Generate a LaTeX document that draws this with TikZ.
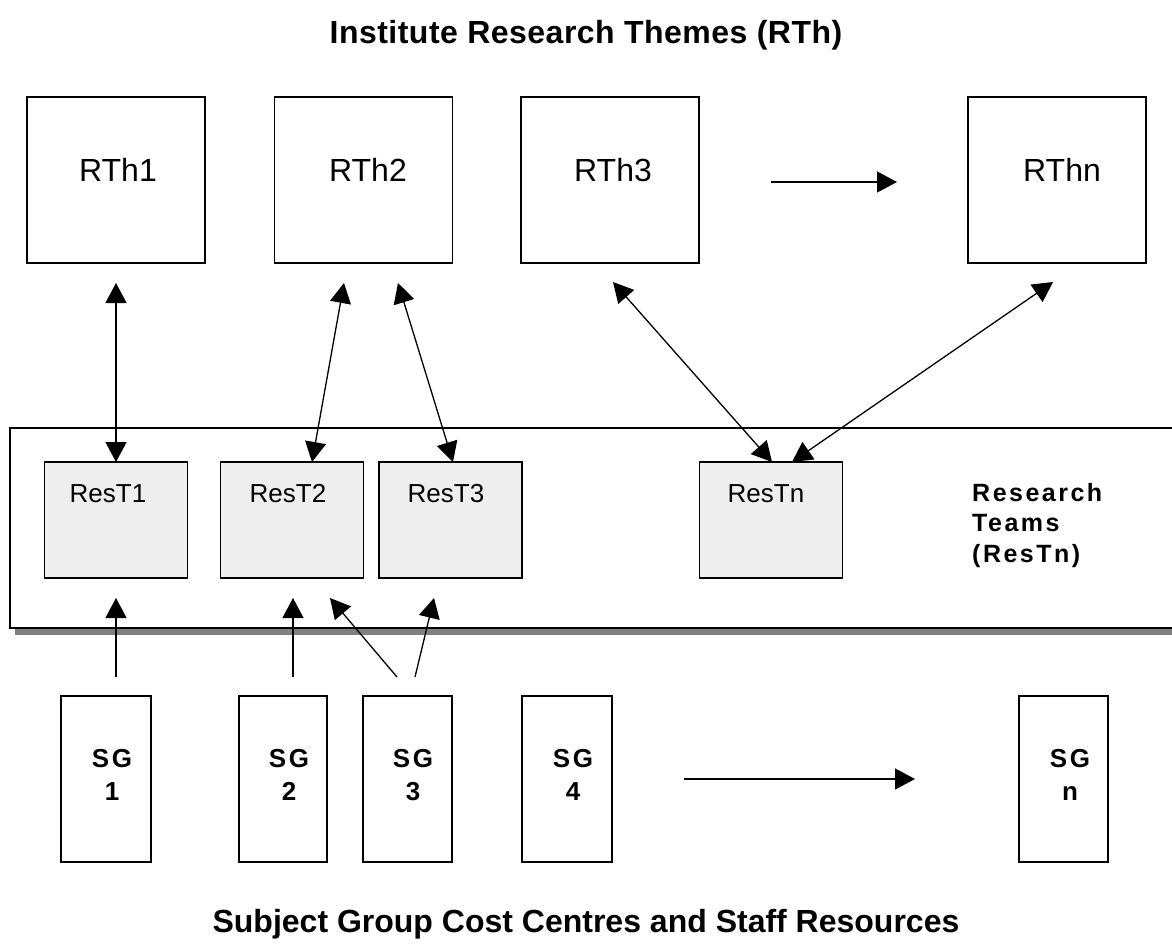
\documentclass[tikz,border=0pt]{standalone}
\usepackage{fontspec}
\setmainfont{Liberation Sans}
\newfontfamily\spbf[LetterSpace=10]{Liberation Sans}
\newfontfamily\ttlf[LetterSpace=1.5]{Liberation Sans}
\usetikzlibrary{arrows.meta}
\definecolor{resfill}{HTML}{EEEEEE}
\definecolor{shadowgray}{HTML}{808080}
\tikzset{
  box/.style={draw=black, line width=1.5pt, fill=white, inner sep=0pt, rectangle},
  thbox/.style={box, minimum width=178pt, minimum height=166pt},
  rtbox/.style={box, fill=resfill, minimum width=143pt, minimum height=116pt},
  sgbox/.style={box, minimum width=89pt, minimum height=166pt},
  conn/.style={line width=1.3pt, draw=black},
  tip/.style={-{Triangle[length=20pt,width=21pt]}},
  tips/.style={{Triangle[length=20pt,width=21pt]}-{Triangle[length=20pt,width=21pt]}},
  lbl/.style={inner sep=0pt, anchor=base, text=black},
}
\begin{document}
\begin{tikzpicture}[x=1pt,y=-1pt]
\useasboundingbox (0,0) rectangle (1172,943);
\fill[white] (0,0) rectangle (1172,943);

% titles
\node[lbl] (title1) at (586,43) {\fontsize{32}{38}\selectfont\ttlf\bfseries Institute Research Themes (RTh)};
\node[lbl] (title2) at (586,932) {\fontsize{32}{38}\selectfont\bfseries Subject Group Cost Centres and Staff Resources};

% research themes
\node[thbox] (rth1) at (116,180) {};
\node[thbox] (rth2) at (363.5,180) {};
\node[thbox] (rth3) at (610,180) {};
\node[thbox] (rthn) at (1057,180) {};
\node[lbl] (l-rth1) at (118,181) {\fontsize{32}{38}\selectfont RTh1};
\node[lbl] (l-rth2) at (368,181) {\fontsize{32}{38}\selectfont RTh2};
\node[lbl] (l-rth3) at (613,181) {\fontsize{32}{38}\selectfont RTh3};
\node[lbl] (l-rthn) at (1062,181) {\fontsize{32}{38}\selectfont RThn};

\coordinate (a-th-s) at (771,182);
\coordinate (a-th-e) at (897,182);
\draw[conn,tip] (a-th-s) -- (a-th-e);

% research teams band with shadow
\fill[shadowgray] (15,435) rectangle (1195,635);
\node[box, anchor=north west, minimum width=1180pt, minimum height=200pt] (band) at (9,427) {};

\node[rtbox] (rt1) at (116,520) {};
\node[rtbox] (rt2) at (292,520) {};
\node[rtbox] (rt3) at (450.5,520) {};
\node[rtbox] (rtn) at (771,520) {};
\node[lbl] (l-rt1) at (108,502) {\fontsize{26}{31}\selectfont ResT1};
\node[lbl] (l-rt2) at (288,502) {\fontsize{26}{31}\selectfont ResT2};
\node[lbl] (l-rt3) at (446,502) {\fontsize{26}{31}\selectfont ResT3};
\node[lbl] (l-rtn) at (766,502) {\fontsize{26}{31}\selectfont ResTn};

\node[inner sep=0pt, anchor=north west, align=left,
      font=\fontsize{25}{30.5}\selectfont\spbf\bfseries] (l-band) at (972,483)
  {Research\\Teams\\(ResTn)};

% connectors themes <-> teams
\coordinate (c1t) at (116,283);
\coordinate (c1b) at (116,462);
\coordinate (c2t) at (344,283);
\coordinate (c2b) at (312,462);
\coordinate (c3t) at (398,283);
\coordinate (c3b) at (453,462);
\coordinate (c4t) at (613,282);
\coordinate (c4b) at (772,462);
\coordinate (c5t) at (1053,282);
\coordinate (c5b) at (792,462);
\draw[conn,tips] (c1t) -- (c1b);
\draw[conn,tips] (c2t) -- (c2b);
\draw[conn,tips] (c3t) -- (c3b);
\draw[conn,tips] (c4t) -- (c4b);
\draw[conn,tips] (c5t) -- (c5b);

% subject groups
\node[sgbox, minimum width=90pt] (sg1) at (106,779) {};
\node[sgbox, minimum width=88pt] (sg2) at (283,779) {};
\node[sgbox] (sg3) at (407.5,779) {};
\node[sgbox, minimum width=90pt] (sg4) at (567,779) {};
\node[sgbox] (sgn) at (1063.5,779) {};
\foreach \n/\x/\t in {1/112/1, 2/289/2, 3/413/3, 4/573/4, n/1070/n}{
  \node[lbl] (l-sg\n-a) at (\x,767) {\fontsize{26}{31}\selectfont\spbf\bfseries SG};
  \node[lbl] (l-sg\n-b) at (\x,800) {\fontsize{26}{31}\selectfont\spbf\bfseries \t};
}

% connectors subject groups -> teams
\coordinate (s1b) at (116,677);
\coordinate (s1t) at (116,598);
\coordinate (s2b) at (293,677);
\coordinate (s2t) at (293,598);
\coordinate (s3ab) at (397,677);
\coordinate (s3at) at (330,598);
\coordinate (s3bb) at (415,677);
\coordinate (s3bt) at (434,598);
\draw[conn,tip] (s1b) -- (s1t);
\draw[conn,tip] (s2b) -- (s2t);
\draw[conn,tip] (s3ab) -- (s3at);
\draw[conn,tip] (s3bb) -- (s3bt);

\coordinate (a-sg-s) at (684,779);
\coordinate (a-sg-e) at (915,779);
\draw[conn,tip] (a-sg-s) -- (a-sg-e);
\end{tikzpicture}
\end{document}
